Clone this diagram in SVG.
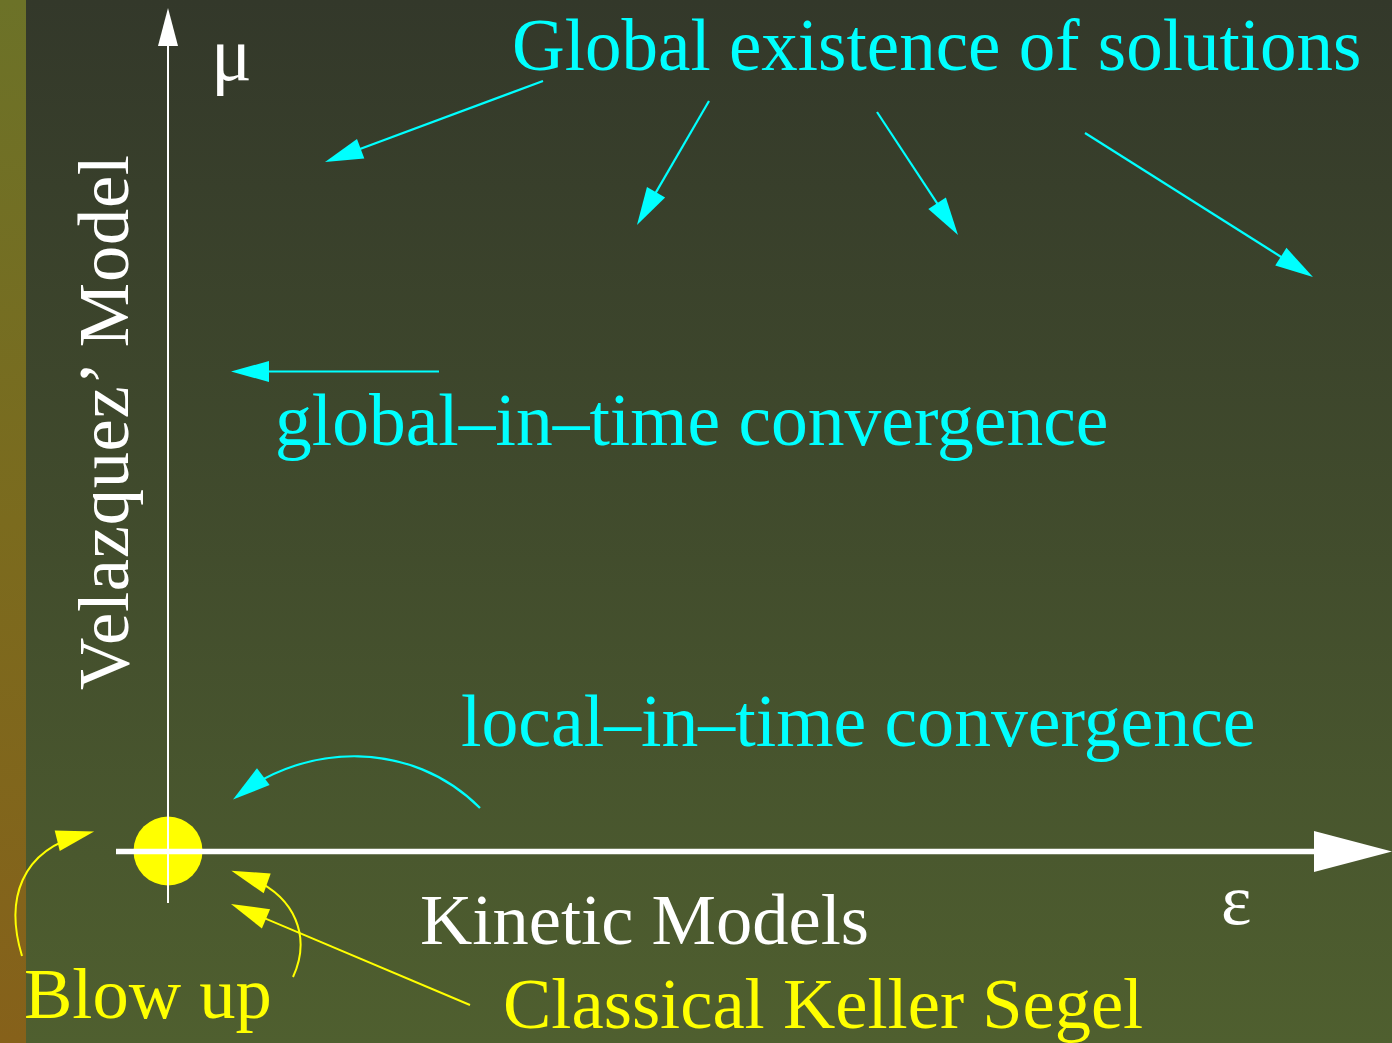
<svg xmlns="http://www.w3.org/2000/svg" width="1392" height="1043" viewBox="0 0 1392 1043">
  <defs>
    <linearGradient id="bg" x1="0" y1="0" x2="0" y2="1">
      <stop offset="0" stop-color="#33382a"/>
      <stop offset="1" stop-color="#4f5f2f"/>
    </linearGradient>
    <linearGradient id="strip" x1="0" y1="0" x2="0" y2="1">
      <stop offset="0" stop-color="#6c7228"/>
      <stop offset="0.5" stop-color="#7b6b1e"/>
      <stop offset="1" stop-color="#86611a"/>
    </linearGradient>
    <marker id="ac" markerUnits="userSpaceOnUse" markerWidth="60" markerHeight="60" refX="0" refY="0" orient="auto" overflow="visible">
      <path d="M10,0 L-28,-10.5 L-28,10.5 Z" fill="#00ffff"/>
    </marker>
    <marker id="ay" markerUnits="userSpaceOnUse" markerWidth="60" markerHeight="60" refX="0" refY="0" orient="auto" overflow="visible">
      <path d="M10,0 L-28,-10.5 L-28,10.5 Z" fill="#ffff00"/>
    </marker>
    <style>
      text { font-family: "Liberation Serif", "Times New Roman", serif; font-size: 72.5px; }
      .cy { fill: #00ffff; }
      .wh { fill: #ffffff; }
      .ye { fill: #ffff00; }
      .lc { stroke: #00ffff; stroke-width: 2.2; fill: none; marker-end: url(#ac); }
      .ly { stroke: #ffff00; stroke-width: 2; fill: none; marker-end: url(#ay); }
    </style>
  </defs>

  <rect x="0" y="0" width="1392" height="1043" fill="url(#bg)"/>
  <rect x="0" y="0" width="26" height="1043" fill="url(#strip)"/>

  <g id="origin">
    <circle cx="168" cy="851" r="34.5" fill="#ffff00"/>
  </g>

  <g id="axes">
    <line x1="168" y1="903" x2="168" y2="44" stroke="#ffffff" stroke-width="2"/>
    <polygon points="168,8 158,46 178,46" fill="#ffffff"/>
    <line x1="116" y1="851.5" x2="1316" y2="851.5" stroke="#ffffff" stroke-width="5.5"/>
    <polygon points="1392,851.5 1314,831 1314,872" fill="#ffffff"/>
  </g>

  <g id="connectors">
    <path class="lc" d="M543,81 L334.4,158.5"/>
    <path class="lc" d="M709,101 L642,216.4"/>
    <path class="lc" d="M877,112 L952.5,226.7"/>
    <path class="lc" d="M1085,133 L1304.5,271.7"/>
    <path class="lc" d="M439,371.5 L241,371.5"/>
    <path class="lc" d="M480,808 C410,738 305,745 241,793.5"/>
    <path class="ly" d="M22,956 C5,900 20,850 84.4,834"/>
    <path class="ly" d="M293,977 C310,940 300,895 240.8,874"/>
    <path class="ly" d="M470,1005 L240.2,907.9"/>
  </g>

  <g id="label-mu"><text class="wh" x="211" y="80" style="font-size:76px">μ</text></g>
  <g id="label-epsilon"><text class="wh" x="1221" y="924">ε</text></g>
  <g id="label-velazquez"><text class="wh" transform="translate(128,690) rotate(-90)" textLength="535" lengthAdjust="spacing">Velazquez’ Model</text></g>
  <g id="label-global-existence"><text class="cy" x="512" y="70" style="font-size:73px">Global existence of solutions</text></g>
  <g id="label-global-convergence"><text class="cy" x="275" y="445" style="font-size:73.5px">global–in–time convergence</text></g>
  <g id="label-local-convergence"><text class="cy" x="461" y="746" style="font-size:73.7px">local–in–time convergence</text></g>
  <g id="label-kinetic"><text class="wh" x="420" y="944">Kinetic Models</text></g>
  <g id="label-blowup"><text class="ye" x="24" y="1018">Blow up</text></g>
  <g id="label-keller-segel"><text class="ye" x="503" y="1028">Classical Keller Segel</text></g>
</svg>
